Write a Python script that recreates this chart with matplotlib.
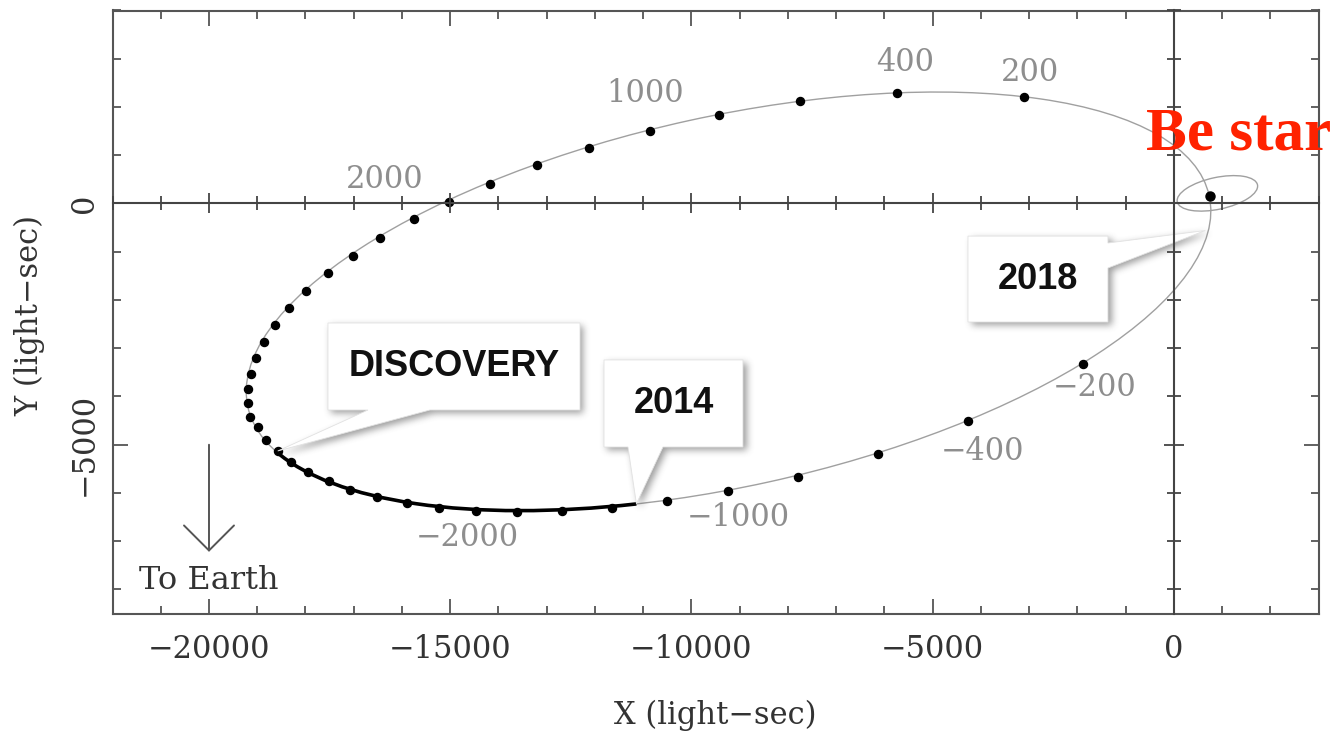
import numpy as np
import matplotlib
matplotlib.use("Agg")
import matplotlib.pyplot as plt
from matplotlib.patches import Ellipse, Arc, Polygon
from matplotlib.path import Path
from matplotlib.ticker import MultipleLocator

plt.rcParams["font.family"] = ["DejaVu Serif"]
plt.rcParams["axes.unicode_minus"] = True

# ---------------------------------------------------------------- data
# Pulsar positions (light-sec), one dot every 200 days.
# Branch after periastron: +200, +400, ... days
upper_x = [-3109, -5741, -7751, -9430, -10860, -12124, -13202, -14176, -15026,
           -15751, -16456, -17016, -17534, -17990, -18342, -18632, -18860,
           -19026, -19130, -19192, -19192, -19150]
upper_y = [2207, 2290, 2124, 1834, 1503, 1150, 798, 404, 31,
           -321, -715, -1088, -1440, -1813, -2166, -2518, -2870,
           -3202, -3534, -3845, -4135, -4425]
# Branch before periastron: -200, -400, ... days
lower_x = [-1886, -4269, -6135, -7793, -9244, -10508, -11648, -12684, -13617,
           -14466, -15233, -15896, -16518, -17078, -17513, -17948, -18301,
           -18576, -18825, -18991]
lower_y = [-3326, -4508, -5192, -5668, -5959, -6166, -6311, -6373, -6388,
           -6373, -6311, -6207, -6083, -5938, -5762, -5565, -5358,
           -5130, -4902, -4626]

# Day labels (days from periastron) and where they sit
day_labels = ["200", "400", "1000", "2000", "\u2212200", "\u2212400", "\u22121000", "\u22122000"]
day_label_x = [-2984, -5575, -10964, -16352, -1637, -3959, -9036, -14653]
day_label_y = [2725, 2912, 2290, 487, -3824, -5150, -6518, -6933]

# Orbit ellipse of the pulsar (centre, semi-axes, tilt in degrees)
orbit_center = (-9232, -2028)
orbit_a, orbit_b, orbit_tilt = 10200, 3835, 12.39
# Reflex orbit of the Be star
star_center = (900, 210)
star_a, star_b, star_tilt = 850, 330, 12.0
star_pos = (746, 155)

# Observed stretch of the orbit: discovery -> 2014
discovery_pt = (-18576, -5130)
pt_2014 = (-11141, -6224)
pt_2018 = (650, -560)

x_ticks = [-20000, -15000, -10000, -5000, 0]
y_ticks = [-5000, 0]

# ---------------------------------------------------------------- figure
W_PX, H_PX = 1339, 735
fig = plt.figure(figsize=(W_PX / 100, H_PX / 100), dpi=100)
ax = fig.add_axes([112.5 / W_PX, (H_PX - 613.6) / H_PX, 1206.2 / W_PX, 603.1 / H_PX])
XLIM, YLIM = (-22000, 3000), (-8500, 4000)
ax.set_xlim(*XLIM)
ax.set_ylim(*YLIM)

spine_col = "#555555"
for s in ax.spines.values():
    s.set_color(spine_col)
    s.set_linewidth(1.5)

ax.xaxis.set_major_locator(MultipleLocator(5000))
ax.xaxis.set_minor_locator(MultipleLocator(1000))
ax.yaxis.set_major_locator(MultipleLocator(5000))
ax.yaxis.set_minor_locator(MultipleLocator(1000))
ax.set_xticks(x_ticks)
ax.set_yticks(y_ticks)
ax.tick_params(which="both", direction="in", top=True, right=True,
               color=spine_col, width=1.3, labelcolor="#333333", labelsize=22)
ax.tick_params(which="major", length=11)
ax.tick_params(which="minor", length=6)
ax.tick_params(axis="x", pad=15)
ax.tick_params(axis="y", pad=9, labelrotation=90)
for lbl in ax.get_yticklabels():
    lbl.set_va("center")

ax.set_xlabel("X (light\u2212sec)", fontsize=22, color="#333333")
ax.xaxis.set_label_coords(0.5, -0.168)
ax.xaxis.label.set_va("center")
ax.set_ylabel("Y (light\u2212sec)", fontsize=22, color="#333333")
ax.yaxis.set_label_coords(-0.0684, 0.495)
ax.yaxis.label.set_va("center")
ax.yaxis.label.set_ha("center")

# Orbits
ax.add_patch(Ellipse(orbit_center, 2 * orbit_a, 2 * orbit_b, angle=orbit_tilt,
                     fill=False, edgecolor="#a0a0a0", lw=1.0, zorder=2))
ax.add_patch(Ellipse(star_center, 2 * star_a, 2 * star_b, angle=star_tilt,
                     fill=False, edgecolor="#a0a0a0", lw=1.0, zorder=2))


def polar_angle(pt):
    """Angle of a point on the orbit, measured in the ellipse's own frame."""
    dx, dy = pt[0] - orbit_center[0], pt[1] - orbit_center[1]
    t = np.deg2rad(orbit_tilt)
    u = dx * np.cos(t) + dy * np.sin(t)
    v = -dx * np.sin(t) + dy * np.cos(t)
    return np.rad2deg(np.arctan2(v, u)) % 360


ax.add_patch(Arc(orbit_center, 2 * orbit_a, 2 * orbit_b, angle=orbit_tilt,
                 theta1=polar_angle(discovery_pt), theta2=polar_angle(pt_2014),
                 edgecolor="black", lw=2.6, zorder=3))

ax.plot(upper_x, upper_y, "o", ms=5.8, color="black", zorder=4)
ax.plot(lower_x, lower_y, "o", ms=5.8, color="black", zorder=4)
ax.plot([star_pos[0]], [star_pos[1]], "o", ms=6.5, color="black", zorder=4)

for t, x, y in zip(day_labels, day_label_x, day_label_y):
    ax.text(x, y, t, ha="center", va="center", fontsize=22, color="#8e8e8e", zorder=3)

# Direction to Earth
ax.annotate("", xy=(-20000, -7220), xytext=(-20000, -5000),
            arrowprops=dict(arrowstyle="->,head_length=1.8,head_width=1.8",
                            mutation_scale=10, color="#555555", lw=1.4,
                            shrinkA=0, shrinkB=0))
ax.text(-20000, -7824, "To Earth", ha="center", va="center", fontsize=23, color="#333333")

# ---------------------------------------------------------------- callouts
def callout(box, base, tip, side):
    x0, x1, yb, yt = box
    if side == "bottom":
        b1, b2 = base
        return [(x0, yt), (x1, yt), (x1, yb), (b2, yb), tip, (b1, yb), (x0, yb)]
    ya, yb2 = base
    return [(x0, yt), (x1, yt), (x1, ya), tip, (x1, yb2), (x1, yb), (x0, yb)]


callouts = [
    ("DISCOVERY", (-17534, -12311, -4280, -2477), (-16705, -15420), discovery_pt, "bottom"),
    ("2014", (-11813, -8933, -5047, -3243), (-11316, -10591), pt_2014, "bottom"),
    ("2018", (-4269, -1368, -2456, -676), (-819, -1337), pt_2018, "right"),
]
polys = [callout(b, base, tip, side) for _, b, base, tip, side in callouts]

# Soft drop shadow rendered on the axes pixel grid
bx0, by0, bw, bh = ax.bbox.bounds
GW, GH = int(round(bw)), int(round(bh))
gx, gy = np.meshgrid(bx0 + (np.arange(GW) + 0.5) * bw / GW,
                     by0 + (np.arange(GH) + 0.5) * bh / GH)
pts = np.column_stack([gx.ravel(), gy.ravel()])
mask = np.zeros(GW * GH)
for p in polys:
    disp = ax.transData.transform(np.asarray(p, float))
    mask = np.maximum(mask, Path(disp).contains_points(pts).astype(float))
mask = mask.reshape(GH, GW)
mask = np.roll(mask, (-3, 3), axis=(0, 1))


def smooth(img, r, passes=3):
    k = 2 * r + 1
    for _ in range(passes):
        p = np.pad(img, ((r, r), (0, 0)), mode="edge")
        c = np.concatenate([np.zeros((1, p.shape[1])), np.cumsum(p, axis=0)], axis=0)
        img = (c[k:] - c[:-k]) / k
        p = np.pad(img, ((0, 0), (r, r)), mode="edge")
        c = np.concatenate([np.zeros((p.shape[0], 1)), np.cumsum(p, axis=1)], axis=1)
        img = (c[:, k:] - c[:, :-k]) / k
    return img


shadow = smooth(mask, 3)
rgba = np.zeros((GH, GW, 4))
rgba[..., :3] = 0.30
rgba[..., 3] = 0.55 * shadow
ax.imshow(rgba, extent=(*XLIM, *YLIM), origin="lower", aspect="auto",
          interpolation="nearest", zorder=5)
ax.set_xlim(*XLIM)
ax.set_ylim(*YLIM)

for (label, box, _, _, _), p in zip(callouts, polys):
    ax.add_patch(Polygon(p, closed=True, facecolor="white", edgecolor="#e2e2e2",
                         lw=0.6, zorder=6))
    ax.text((box[0] + box[1]) / 2, (box[2] + box[3]) / 2, label, ha="center",
            va="center", fontsize=26, fontweight="bold", family="Liberation Sans",
            color="#111111", zorder=7)

# ---------------------------------------------------------------- zero lines
axz = fig.add_axes(ax.get_position(), sharex=ax, sharey=ax)
axz.patch.set_visible(False)
axz.spines["top"].set_visible(False)
axz.spines["right"].set_visible(False)
axz.spines["left"].set_position(("data", 0))
axz.spines["bottom"].set_position(("data", 0))
for s in ("left", "bottom"):
    axz.spines[s].set_color("#444444")
    axz.spines[s].set_linewidth(1.5)
axz.tick_params(which="both", direction="inout", top=False, right=False,
                labelleft=False, labelbottom=False, color="#444444", width=1.3)
axz.tick_params(which="major", length=14)
axz.tick_params(which="minor", length=10)

fig.text(1146 / W_PX, (H_PX - 150) / H_PX, "Be star", ha="left", va="baseline",
         fontsize=44, fontweight="bold", family="Liberation Serif", color="#ff2200")

fig.savefig("out.png", dpi=100)
